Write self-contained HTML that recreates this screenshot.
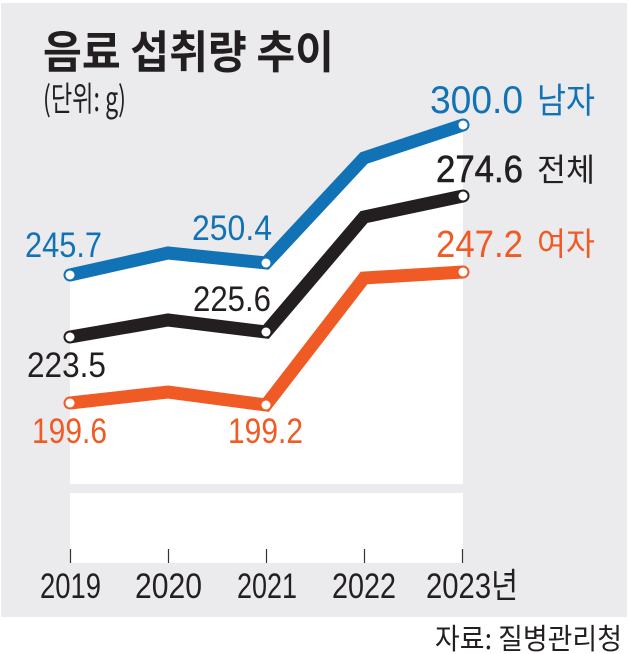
<!DOCTYPE html>
<html>
<head>
<meta charset="utf-8">
<style>
  html, body { margin:0; padding:0; background:#ffffff; }
  svg { display:block; }
  text { font-family: "Liberation Sans", "Noto Sans CJK KR", sans-serif; }
  .kr { font-family: "Noto Sans CJK KR", "Liberation Sans", sans-serif; }
</style>
</head>
<body>
<svg width="629" height="654" viewBox="0 0 629 654" xmlns="http://www.w3.org/2000/svg">
  <!-- background panel -->
  <rect x="1" y="3" width="626" height="614" fill="#ebebed"/>

  <!-- white plot area under blue line -->
  <polygon points="70,275 168,253 266,263 364,158 463,125 463,484 70,484" fill="#ffffff"/>
  <rect x="70" y="493" width="393" height="70" fill="#ffffff"/>

  <!-- ticks -->
  <g stroke="#333333" stroke-width="1.2">
    <line x1="70.5" y1="549" x2="70.5" y2="563"/>
    <line x1="168.5" y1="549" x2="168.5" y2="563"/>
    <line x1="266.5" y1="549" x2="266.5" y2="563"/>
    <line x1="364.5" y1="549" x2="364.5" y2="563"/>
    <line x1="462.5" y1="549" x2="462.5" y2="563"/>
  </g>

  <!-- series lines -->
  <g fill="none" stroke-width="13" stroke-linecap="round" stroke-linejoin="miter">
    <polyline points="70,275 168,253 266,263 364,158 463,125" stroke="#1272b6"/>
    <polyline points="70,337 168,320 266,332 364,217 463,196" stroke="#231f20"/>
    <polyline points="70,403 168,392 266,405 364,278 463,272" stroke="#f05a24"/>
  </g>

  <!-- markers -->
  <g fill="#ffffff">
    <circle cx="70" cy="275" r="4.5"/>
    <circle cx="266" cy="263" r="4.5"/>
    <circle cx="463" cy="125" r="4.5"/>
    <circle cx="70" cy="337" r="4.5"/>
    <circle cx="266" cy="332" r="4.5"/>
    <circle cx="463" cy="196" r="4.5"/>
    <circle cx="70" cy="403" r="4.5"/>
    <circle cx="266" cy="405" r="4.5"/>
    <circle cx="463" cy="272" r="4.5"/>
  </g>

  <!-- title -->
  <text class="kr" x="43" y="68" font-size="45" font-weight="bold" fill="#231f20" textLength="291" lengthAdjust="spacingAndGlyphs">음료 섭취량 추이</text>
  <text class="kr" x="43" y="111" font-size="34" fill="#231f20" textLength="83" lengthAdjust="spacingAndGlyphs">(단위: g)</text>

  <!-- blue labels -->
  <text x="25" y="257" font-size="35" fill="#1272b6" textLength="77" lengthAdjust="spacingAndGlyphs">245.7</text>
  <text x="192" y="240" font-size="35" fill="#1272b6" textLength="80" lengthAdjust="spacingAndGlyphs">250.4</text>
  <text x="430" y="113" font-size="39" fill="#1272b6" textLength="93" lengthAdjust="spacingAndGlyphs">300.0</text>
  <text class="kr" x="537" y="113" font-size="35" fill="#1272b6" textLength="58" lengthAdjust="spacingAndGlyphs">남자</text>

  <!-- black labels -->
  <text x="193" y="311" font-size="35" fill="#231f20" textLength="78" lengthAdjust="spacingAndGlyphs">225.6</text>
  <text x="27" y="377" font-size="35" fill="#231f20" textLength="79" lengthAdjust="spacingAndGlyphs">223.5</text>
  <text x="436" y="182" font-size="38" fill="#231f20" textLength="87" lengthAdjust="spacingAndGlyphs" stroke="#231f20" stroke-width="0.6">274.6</text>
  <text class="kr" x="537" y="181" font-size="32" fill="#231f20" textLength="58" lengthAdjust="spacingAndGlyphs">전체</text>

  <!-- orange labels -->
  <text x="32" y="443" font-size="35" fill="#f05a24" textLength="75" lengthAdjust="spacingAndGlyphs">199.6</text>
  <text x="228" y="443" font-size="35" fill="#f05a24" textLength="75" lengthAdjust="spacingAndGlyphs">199.2</text>
  <text x="436" y="257" font-size="38" fill="#f05a24" textLength="87" lengthAdjust="spacingAndGlyphs">247.2</text>
  <text class="kr" x="537" y="255" font-size="32" fill="#f05a24" textLength="58" lengthAdjust="spacingAndGlyphs">여자</text>

  <!-- x axis labels -->
  <g fill="#231f20" font-size="35">
    <text x="40" y="598" textLength="61" lengthAdjust="spacingAndGlyphs">2019</text>
    <text x="135" y="598" textLength="67" lengthAdjust="spacingAndGlyphs">2020</text>
    <text x="237" y="598" textLength="60" lengthAdjust="spacingAndGlyphs">2021</text>
    <text x="332" y="598" textLength="64" lengthAdjust="spacingAndGlyphs">2022</text>
    <text x="426" y="598" textLength="92" lengthAdjust="spacingAndGlyphs">2023년</text>
  </g>

  <!-- source -->
  <text class="kr" x="435" y="649" font-size="29" fill="#231f20" textLength="187" lengthAdjust="spacingAndGlyphs">자료: 질병관리청</text>
</svg>
</body>
</html>
